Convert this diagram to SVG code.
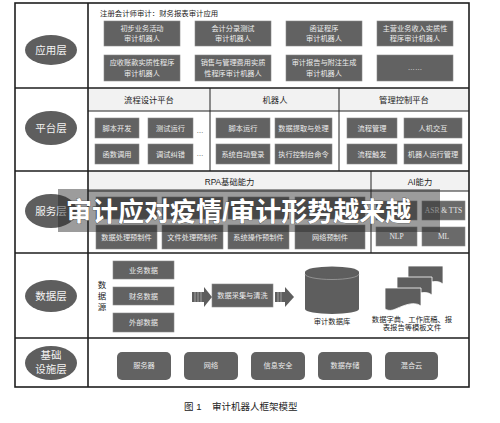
<svg xmlns="http://www.w3.org/2000/svg" width="500" height="423" viewBox="0 0 500 423">
<style>
text{font-family:"Liberation Sans","Noto Sans CJK SC",sans-serif;}
.bx{fill:#626262;stroke:#8a8a8a;stroke-width:0.6;}
.bt{fill:#ececec;font-size:7.2px;text-anchor:middle;}
.el{fill:#5e5e5e;}
.et{fill:#f4f4f4;font-size:10.5px;text-anchor:middle;}
.hd{fill:#f2f2f2;}
.ht{fill:#222;font-size:8.3px;text-anchor:middle;}
.ln{stroke:#222;stroke-width:1;fill:none;}
.ol{stroke:#1e1e1e;stroke-width:1.6;fill:none;}
.ai{fill:#6a6a6a;stroke:#8a8a8a;stroke-width:0.6;}
.at{fill:#e8e8e8;font-family:"Liberation Serif",serif;font-size:7.5px;text-anchor:middle;}
.rb{fill:#626262;}
.dt{fill:#222;font-size:7.3px;text-anchor:middle;}
</style>
<rect width="500" height="423" fill="#ffffff"/>

<g id="table">
<rect x="88" y="88" width="381" height="23" class="hd"/>
<rect x="88" y="171" width="381" height="20" class="hd"/>
<rect x="15" y="3" width="454" height="384" class="ol"/>
<line x1="88" y1="3" x2="88" y2="387" class="ol"/>
<line x1="15" y1="88" x2="469" y2="88" class="ol"/>
<line x1="15" y1="171" x2="469" y2="171" class="ol"/>
<line x1="15" y1="253" x2="469" y2="253" class="ol"/>
<line x1="15" y1="338" x2="469" y2="338" class="ol"/>
<line x1="88" y1="111" x2="469" y2="111" class="ln"/>
<line x1="210" y1="88" x2="210" y2="171" class="ln"/>
<line x1="339" y1="88" x2="339" y2="171" class="ln"/>
<line x1="88" y1="191" x2="469" y2="191" class="ln"/>
<line x1="371" y1="171" x2="371" y2="253" class="ln"/>
</g>

<g id="app-layer">
<ellipse cx="51" cy="50" rx="26" ry="15" class="el"/>
<text x="51" y="54" class="et">应用层</text>
<text x="100" y="16" fill="#222" font-size="7.4px">注册会计师审计：财务报表审计应用</text>
<rect x="104" y="21" width="76" height="25" class="bx"/>
<text x="142" y="30.5" class="bt">初步业务活动</text><text x="142" y="41" class="bt">审计机器人</text>
<rect x="195" y="21" width="76" height="25" class="bx"/>
<text x="233" y="30.5" class="bt">会计分录测试</text><text x="233" y="41" class="bt">审计机器人</text>
<rect x="286" y="21" width="76" height="25" class="bx"/>
<text x="324" y="30.5" class="bt">函证程序</text><text x="324" y="41" class="bt">审计机器人</text>
<rect x="377" y="21" width="76" height="25" class="bx"/>
<text x="415" y="30.5" class="bt">主营业务收入实质性</text><text x="415" y="41" class="bt">程序审计机器人</text>
<rect x="104" y="55" width="76" height="26" class="bx"/>
<text x="142" y="65" class="bt">应收账款实质性程序</text><text x="142" y="76" class="bt">审计机器人</text>
<rect x="195" y="55" width="76" height="26" class="bx"/>
<text x="233" y="65" class="bt">销售与管理费用实质</text><text x="233" y="76" class="bt">性程序审计机器人</text>
<rect x="286" y="55" width="76" height="26" class="bx"/>
<text x="324" y="65" class="bt">审计报告与附注生成</text><text x="324" y="76" class="bt">审计机器人</text>
<rect x="377" y="55" width="76" height="26" class="bx"/>
<text x="415" y="70" class="bt">……</text>
</g>

<g id="platform-layer">
<ellipse cx="51" cy="128" rx="26" ry="17" class="el"/>
<text x="51" y="132" class="et">平台层</text>
<text x="149" y="103" class="ht">流程设计平台</text>
<text x="275" y="103" class="ht">机器人</text>
<text x="404" y="103" class="ht">管理控制平台</text>
<rect x="95" y="118" width="44" height="20" class="bx"/><text x="117" y="130.5" class="bt">脚本开发</text>
<rect x="148" y="118" width="45" height="20" class="bx"/><text x="170.5" y="130.5" class="bt">测试运行</text>
<text x="200" y="133" fill="#333" font-size="7px" text-anchor="middle">…</text>
<rect x="95" y="144" width="44" height="20" class="bx"/><text x="117" y="156.5" class="bt">函数调用</text>
<rect x="148" y="144" width="45" height="20" class="bx"/><text x="170.5" y="156.5" class="bt">调试纠错</text>
<text x="200" y="156" fill="#333" font-size="7px" text-anchor="middle">…</text>
<rect x="216" y="118" width="54" height="20" class="bx"/><text x="243" y="130.5" class="bt">脚本运行</text>
<rect x="275" y="118" width="57" height="20" class="bx"/><text x="303.5" y="130.5" class="bt">数据提取与处理</text>
<rect x="216" y="144" width="54" height="20" class="bx"/><text x="243" y="156.5" class="bt">系统自动登录</text>
<rect x="275" y="144" width="57" height="20" class="bx"/><text x="303.5" y="156.5" class="bt">执行控制台命令</text>
<rect x="347" y="118" width="50" height="20" class="bx"/><text x="372" y="130.5" class="bt">流程管理</text>
<rect x="404" y="118" width="58" height="20" class="bx"/><text x="433" y="130.5" class="bt">人机交互</text>
<rect x="347" y="144" width="50" height="20" class="bx"/><text x="372" y="156.5" class="bt">流程触发</text>
<rect x="404" y="144" width="58" height="20" class="bx"/><text x="433" y="156.5" class="bt">机器人运行管理</text>
</g>

<g id="service-layer">
<ellipse cx="51" cy="211" rx="26" ry="17" class="el"/>
<text x="51" y="215" class="et" font-size="9.5px">服务层</text>
<text x="229.5" y="184.5" class="ht" font-size="7.8px">RPA基础能力</text>
<text x="420" y="184.5" class="ht" font-size="7.8px">AI能力</text>
<rect x="96" y="197" width="61" height="22" class="bx"/>
<rect x="162" y="197" width="61" height="22" class="bx"/>
<rect x="228" y="197" width="61" height="22" class="bx"/>
<rect x="295" y="197" width="70" height="22" class="bx"/>
<rect x="96" y="225" width="61" height="24" class="bx"/><text x="126.5" y="239.5" class="bt">数据处理预制件</text>
<rect x="162" y="225" width="61" height="24" class="bx"/><text x="192.5" y="239.5" class="bt">文件处理预制件</text>
<rect x="228" y="225" width="61" height="24" class="bx"/><text x="258.5" y="239.5" class="bt">系统操作预制件</text>
<rect x="295" y="225" width="70" height="24" class="bx"/><text x="330" y="239.5" class="bt">网络预制件</text>
<rect x="376" y="201" width="41" height="19" class="ai"/>
<rect x="422" y="201" width="43" height="19" class="ai"/><text x="443.5" y="213" class="at">ASR &amp; TTS</text>
<rect x="376" y="227" width="41" height="19" class="ai"/><text x="396.5" y="239" class="at">NLP</text>
<rect x="422" y="227" width="43" height="19" class="ai"/><text x="443.5" y="239" class="at">ML</text>
</g>

<g id="data-layer">
<ellipse cx="51" cy="296" rx="26" ry="16" class="el"/>
<text x="51" y="300" class="et">数据层</text>
<text x="102" y="288" fill="#222" font-size="8.5px" text-anchor="middle">数</text>
<text x="102" y="299" fill="#222" font-size="8.5px" text-anchor="middle">据</text>
<text x="102" y="310" fill="#222" font-size="8.5px" text-anchor="middle">源</text>
<rect x="113" y="261" width="61" height="18" class="bx"/><text x="143.5" y="272.5" class="bt">业务数据</text>
<rect x="113" y="287" width="61" height="18" class="bx"/><text x="143.5" y="298.5" class="bt">财务数据</text>
<rect x="113" y="313" width="61" height="19" class="bx"/><text x="143.5" y="325" class="bt">外部数据</text>
<rect x="212" y="284" width="61" height="23" class="bx"/><text x="242.5" y="298" class="bt">数据采集与清洗</text>
<g id="db">
<path d="M305 272 V309 A27 5 0 0 0 359 309 V272 Z" fill="#5e5e5e"/>
<ellipse cx="332" cy="272" rx="27" ry="5.5" fill="#5e5e5e"/>
<path d="M305 274 A27 5.5 0 0 0 359 274" fill="none" stroke="#a8a8a8" stroke-width="0.7"/>
<text x="332" y="324" class="dt">审计数据库</text>
</g>
<g id="docs" fill="#5e5e5e" stroke="#ffffff" stroke-width="0.8">
<path d="M408 266 H443 V284 C436 278 424 284 416 287 C412 288 410 287 408 286 Z"/>
<path d="M397 277 H432 V295 C425 289 413 295 405 298 C401 299 399 298 397 297 Z"/>
<path d="M385 288 H421 V306 C413 300 401 307 393 310 C389 311 387 310 385 309 Z"/>
</g>
<text x="412" y="322" class="dt">数据字典、工作底稿、报</text>
<text x="412" y="330" class="dt">表报告等模板文件</text>
</g>

<g id="connectors">
<g id="arrow1">
<rect x="192" y="292" width="13" height="10" fill="#5e5e5e"/>
<line x1="195" y1="292" x2="195" y2="302" stroke="#cfcfcf" stroke-width="0.6"/>
<line x1="198" y1="292" x2="198" y2="302" stroke="#cfcfcf" stroke-width="0.6"/>
<line x1="201" y1="292" x2="201" y2="302" stroke="#cfcfcf" stroke-width="0.6"/>
<polygon points="204,287 212,297 204,307" fill="#5e5e5e"/>
</g>
<g id="arrow2">
<rect x="275" y="292" width="11" height="10" fill="#5e5e5e"/>
<line x1="278" y1="292" x2="278" y2="302" stroke="#cfcfcf" stroke-width="0.6"/>
<line x1="281" y1="292" x2="281" y2="302" stroke="#cfcfcf" stroke-width="0.6"/>
<polygon points="285,287 294,297 285,307" fill="#5e5e5e"/>
</g>
</g>

<g id="infra-layer">
<ellipse cx="51" cy="363" rx="26" ry="17" class="el"/>
<text x="51" y="359" class="et" font-size="9.5px">基础</text>
<text x="51" y="373" class="et" font-size="9.5px">设施层</text>
<rect x="117" y="352" width="54" height="28" rx="5" class="rb"/><text x="144" y="368" class="bt" font-size="6.8px">服务器</text>
<rect x="184" y="352" width="54" height="28" rx="5" class="rb"/><text x="211" y="368" class="bt" font-size="6.8px">网络</text>
<rect x="251" y="352" width="54" height="28" rx="5" class="rb"/><text x="278" y="368" class="bt" font-size="6.8px">信息安全</text>
<rect x="318" y="352" width="54" height="28" rx="5" class="rb"/><text x="345" y="368" class="bt" font-size="6.8px">数据存储</text>
<rect x="385" y="352" width="53" height="28" rx="5" class="rb"/><text x="411.5" y="368" class="bt" font-size="6.8px">混合云</text>
</g>

<g id="caption">
<text x="184" y="410" fill="#222" font-size="9.5px">图 1</text>
<text x="212" y="410" fill="#222" font-size="9.5px">审计机器人框架模型</text>
</g>

<g id="banner">
<rect x="58" y="189" width="382" height="43" fill="#272727" fill-opacity="0.46"/>
<text x="66" y="221" fill="#ffffff" font-size="26px" font-weight="bold" stroke="#3a3a3a" stroke-width="0.6" paint-order="stroke">审计应对疫情/审计形势越来越</text>
</g>
</svg>
